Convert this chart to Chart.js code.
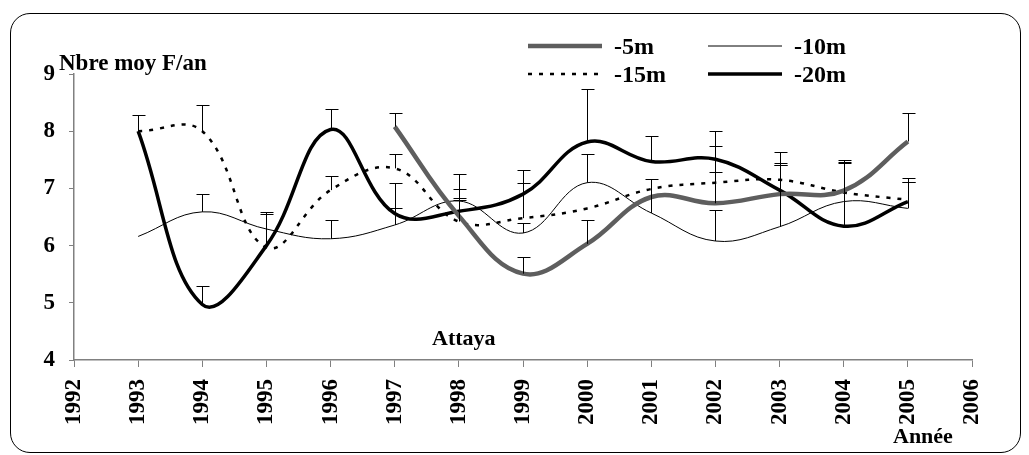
<!DOCTYPE html>
<html>
<head>
<meta charset="utf-8">
<script src="https://cdn.jsdelivr.net/npm/chart.js@4.4.1/dist/chart.umd.min.js"></script>
<style>
  body { margin: 0; background: #fff; }
  #wrap { position: relative; width: 1029px; height: 455px; }
  #frame { position: absolute; left: 10px; top: 13px; width: 1009px; height: 438px;
           border: 1.5px solid #000; border-radius: 20px; pointer-events: none; }
</style>
</head>
<body>
<div id="wrap">
  <canvas id="chart" width="1029" height="455"></canvas>
  <div id="frame"></div>
</div>
<script>
var years = [1993, 1994, 1995, 1996, 1997, 1998, 1999, 2000, 2001, 2002, 2003, 2004, 2005];
var yTicks = [4, 5, 6, 7, 8, 9];

// moyennes
var m5  = [null, null, null, null, 8.08, 6.52, 5.51, 6.03, 6.85, 6.74, 6.90, 6.96, 7.82];
var m10 = [6.16, 6.59, 6.29, 6.12, 6.36, 6.78, 6.22, 7.10, 6.57, 6.08, 6.33, 6.77, 6.65];
var m15 = [8.00, 8.00, 5.97, 6.97, 7.35, 6.42, 6.48, 6.65, 6.99, 7.10, 7.15, 6.93, 6.80];
var m20 = [8.00, 4.97, 6.00, 8.03, 6.56, 6.60, 6.90, 7.81, 7.47, 7.51, 6.97, 6.34, 6.77];

// haut des barres d'erreur
var e5  = [null, null, null, null, 8.31, 7.26, 5.80, 6.45, null, 7.29, 7.41, 7.50, 8.32];
var e10 = [null, 6.90, null, 6.45, 6.65, 6.80, 6.40, 7.61, 7.16, 6.62, 7.41, null, 7.11];
var e15 = [null, 8.46, 6.55, 7.22, 7.60, 6.99, 7.10, null, null, 7.74, 7.64, 7.47, 7.18];
var e20 = [8.28, 5.29, 6.58, 8.38, 7.10, 6.83, 7.33, 8.73, 7.92, 8.00, 7.45, 7.44, 7.11];

function pts(vals) {
  return years.map(function (yr, i) { return { x: yr, y: vals[i] }; });
}

var serif = '"Liberation Serif", "Times New Roman", serif';

var errorBars = {
  id: 'errorBars',
  afterDatasetsDraw: function (chart) {
    var ctx = chart.ctx, xs = chart.scales.x, ys = chart.scales.y;
    ctx.save();
    ctx.strokeStyle = '#000';
    ctx.lineWidth = 1;
    chart.data.datasets.forEach(function (ds) {
      ds.errUp.forEach(function (top, i) {
        if (top == null || ds.data[i].y == null) return;
        var px = Math.round(xs.getPixelForValue(years[i])) + 0.5;
        var y0 = ys.getPixelForValue(ds.data[i].y);
        var y1 = Math.round(ys.getPixelForValue(top)) + 0.5;
        ctx.beginPath();
        ctx.moveTo(px, y0);
        ctx.lineTo(px, y1);
        ctx.moveTo(px - 6, y1);
        ctx.lineTo(px + 7, y1);
        ctx.stroke();
      });
    });
    ctx.restore();
  }
};

var extras = {
  id: 'extras',
  afterDraw: function (chart) {
    var ctx = chart.ctx, a = chart.chartArea;
    ctx.save();
    ctx.fillStyle = '#000';
    ctx.font = 'bold 23px ' + serif;
    ctx.textBaseline = 'alphabetic';
    ctx.textAlign = 'left';
    ctx.fillText('Nbre moy F/an', a.left - 15, a.top - 4);
    ctx.font = 'bold 22px ' + serif;
    ctx.fillText('Attaya', 432, 345);
    ctx.fillText('Année', 893, 443);

    // légende 2 x 2
    var items = [
      { ds: 0, x: 528, y: 46 }, { ds: 1, x: 708, y: 46 },
      { ds: 2, x: 528, y: 74 }, { ds: 3, x: 708, y: 74 }
    ];
    ctx.font = 'bold 24px ' + serif;
    items.forEach(function (it) {
      var ds = chart.data.datasets[it.ds];
      ctx.save();
      ctx.strokeStyle = ds.borderColor;
      ctx.lineWidth = ds.borderWidth;
      ctx.setLineDash(ds.borderDash || []);
      ctx.beginPath();
      ctx.moveTo(it.x, it.y);
      ctx.lineTo(it.x + 74, it.y);
      ctx.stroke();
      ctx.restore();
      ctx.fillText(ds.label, it.x + 86, it.y + 8);
    });
    ctx.restore();
  }
};

new Chart(document.getElementById('chart'), {
  type: 'line',
  data: {
    datasets: [
      { label: '-5m', data: pts(m5), errUp: e5, borderColor: '#5e5e5e', borderWidth: 4.5 },
      { label: '-10m', data: pts(m10), errUp: e10, borderColor: '#000', borderWidth: 1 },
      { label: '-15m', data: pts(m15), errUp: e15, borderColor: '#000', borderWidth: 2.5, borderDash: [4, 7] },
      { label: '-20m', data: pts(m20), errUp: e20, borderColor: '#000', borderWidth: 3.5 }
    ]
  },
  options: {
    responsive: false,
    animation: false,
    layout: { padding: { left: 0, top: 74, right: 57, bottom: 0 } },
    elements: {
      point: { radius: 0 },
      line: { tension: 0.4, fill: false, borderCapStyle: 'butt' }
    },
    plugins: { legend: { display: false }, tooltip: { enabled: false } },
    scales: {
      x: {
        type: 'linear', min: 1992, max: 2006,
        afterBuildTicks: function (s) { s.ticks = years.concat([1992, 2006]).sort().map(function (v) { return { value: v }; }); },
        afterFit: function (s) { s.height = 95; },
        border: { color: '#808080', width: 1.5 },
        grid: { drawOnChartArea: false, drawTicks: true, tickLength: 7, color: '#808080' },
        ticks: {
          minRotation: 90, maxRotation: 90, padding: 12, color: '#000',
          font: { family: serif, size: 23, weight: 'bold' },
          callback: function (v) { return String(v); }
        }
      },
      y: {
        min: 4, max: 9,
        afterBuildTicks: function (s) { s.ticks = yTicks.map(function (v) { return { value: v }; }); },
        afterFit: function (s) { s.width = 74; },
        border: { color: '#808080', width: 1.5 },
        grid: { drawOnChartArea: false, drawTicks: true, tickLength: 5, color: '#808080' },
        ticks: {
          padding: 14, color: '#000',
          font: { family: serif, size: 23, weight: 'bold' }
        }
      }
    }
  },
  plugins: [errorBars, extras]
});
</script>
</body>
</html>
